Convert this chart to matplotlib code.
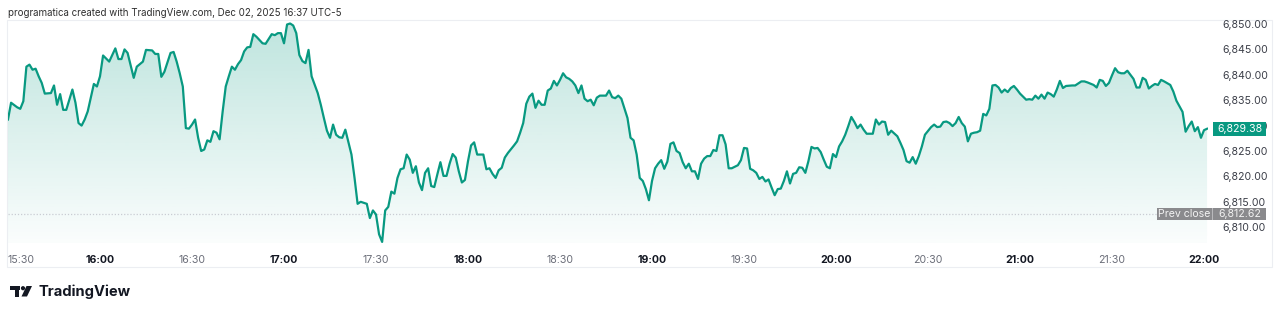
import matplotlib
matplotlib.use("Agg")
import matplotlib.pyplot as plt
import matplotlib.transforms as mtransforms
from matplotlib.patches import Rectangle, Polygon, Circle
import numpy as np

# ---------------- data ----------------
minutes = [0, 1, 3, 4, 5, 6, 7, 8, 9, 10, 11, 12, 14, 15, 16, 17, 18, 19, 21, 22, 23, 24, 25, 26, 28, 29,
           30, 31, 33, 35, 36, 37, 38, 39, 41, 42, 44, 45, 47, 48, 49, 50, 51, 53, 54, 55, 56, 57, 58, 59,
           60, 61, 62, 63, 64, 65, 66, 67, 68, 69, 70, 71, 72, 73, 74, 75, 76, 77, 78, 79, 80, 81, 83, 84,
           86, 87, 88, 89, 90, 91, 92, 93, 94, 95, 96, 97, 98, 99, 101, 102, 103, 104, 105, 106, 107, 108,
           109, 110, 112, 113, 114, 115, 117, 118, 119, 120, 121, 122, 123, 124, 125, 126, 127, 128, 129,
           130, 131, 132, 133, 134, 135, 136, 137, 138, 139, 140, 141, 142, 143, 144, 145, 146, 147, 148,
           149, 150, 151, 152, 153, 155, 156, 157, 158, 159, 160, 161, 162, 163, 165, 166, 167, 168, 169,
           170, 171, 172, 173, 174, 175, 176, 177, 178, 179, 180, 181, 182, 183, 184, 185, 186, 187, 188,
           189, 190, 191, 192, 193, 195, 196, 197, 198, 199, 200, 202, 203, 204, 205, 206, 207, 208, 209,
           210, 211, 212, 213, 214, 215, 216, 217, 218, 219, 220, 221, 222, 223, 224, 225, 226, 227, 228,
           229, 230, 231, 232, 233, 234, 235, 236, 238, 239, 240, 241, 242, 243, 244, 245, 246, 247, 248,
           249, 250, 251, 252, 253, 254, 255, 256, 257, 258, 259, 260, 261, 262, 263, 264, 265, 266, 267,
           268, 269, 270, 271, 272, 273, 274, 275, 276, 277, 278, 279, 280, 282, 283, 284, 285, 286, 287,
           288, 290, 291, 292, 293, 294, 295, 296, 297, 298, 299, 301, 302, 303, 304, 305, 306, 307, 308,
           309, 310, 311, 312, 313, 314, 315, 316, 317, 318, 319, 320, 321, 322, 323, 324, 325, 326, 327,
           328, 329, 330, 332, 333, 334, 335, 336, 337, 338, 339, 340, 341, 342, 343, 344, 345, 347, 348,
           350, 351, 352, 354, 355, 356, 357, 358, 359, 360, 361, 362, 363, 364, 365, 366, 367, 368, 369,
           370, 371, 372, 373, 374, 375, 376, 377, 379, 380, 381, 382, 383, 384, 385, 386, 387, 388, 389,
           390, 391]

prices = [6831.2, 6834.5, 6833.6, 6833.3, 6834.8, 6841.6, 6842.0, 6841.0, 6841.2, 6839.7, 6838.4, 6836.3,
          6836.4, 6837.9, 6834.1, 6836.2, 6833.1, 6833.1, 6837.1, 6834.5, 6830.5, 6830.0, 6831.2, 6832.8,
          6838.2, 6837.7, 6839.7, 6843.8, 6842.6, 6845.2, 6843.1, 6843.1, 6845.0, 6844.3, 6839.4, 6841.6,
          6842.6, 6844.9, 6844.8, 6844.1, 6844.1, 6839.6, 6840.6, 6844.3, 6844.5, 6842.6, 6840.3, 6837.7,
          6829.5, 6829.4, 6830.2, 6831.2, 6827.6, 6825.0, 6825.3, 6827.1, 6826.8, 6828.9, 6828.6, 6827.3,
          6832.8, 6837.7, 6839.7, 6841.6, 6841.0, 6842.1, 6842.9, 6844.6, 6845.4, 6845.5, 6848.0, 6847.5,
          6846.2, 6846.1, 6848.0, 6847.8, 6848.2, 6848.2, 6846.2, 6849.9, 6850.1, 6849.7, 6848.2, 6843.9,
          6842.7, 6842.3, 6844.9, 6839.7, 6836.4, 6834.1, 6831.5, 6829.0, 6827.6, 6830.2, 6828.2, 6827.7,
          6827.6, 6829.2, 6824.3, 6819.7, 6814.6, 6815.0, 6814.6, 6811.8, 6813.3, 6812.5, 6808.6, 6807.1,
          6813.3, 6814.0, 6817.0, 6816.6, 6819.7, 6821.4, 6821.6, 6824.3, 6823.3, 6820.7, 6822.0, 6818.8,
          6817.3, 6820.7, 6821.6, 6818.1, 6817.9, 6820.4, 6822.8, 6820.1, 6820.1, 6822.5, 6824.4, 6823.7,
          6821.0, 6818.8, 6819.3, 6823.0, 6826.1, 6826.7, 6824.3, 6824.3, 6821.4, 6821.6, 6820.5, 6819.7,
          6821.2, 6821.7, 6823.7, 6824.6, 6826.1, 6826.9, 6828.6, 6830.5, 6834.3, 6835.7, 6836.3, 6833.5,
          6834.9, 6834.1, 6834.1, 6836.9, 6837.3, 6838.8, 6837.9, 6839.0, 6840.3, 6839.5, 6839.2, 6838.7,
          6837.9, 6836.4, 6837.9, 6835.3, 6834.8, 6835.1, 6834.0, 6835.5, 6835.9, 6835.9, 6836.9, 6835.6,
          6835.4, 6835.9, 6835.3, 6831.5, 6827.6, 6827.1, 6824.3, 6819.7, 6819.1, 6817.5, 6815.3, 6819.1,
          6821.6, 6822.5, 6823.2, 6821.5, 6822.9, 6826.4, 6826.7, 6825.0, 6824.6, 6822.8, 6821.6, 6822.5,
          6821.0, 6821.0, 6819.5, 6822.5, 6823.5, 6824.0, 6824.0, 6825.2, 6825.0, 6828.1, 6828.1, 6826.3,
          6821.6, 6821.6, 6822.2, 6823.2, 6825.6, 6825.5, 6821.5, 6821.2, 6820.7, 6819.5, 6819.9, 6819.0,
          6819.4, 6817.8, 6816.3, 6817.5, 6817.6, 6819.1, 6821.0, 6818.6, 6820.5, 6820.7, 6821.8, 6821.7,
          6820.7, 6823.0, 6825.8, 6825.5, 6825.6, 6824.8, 6823.3, 6821.9, 6821.6, 6824.4, 6823.8, 6825.9,
          6826.9, 6828.2, 6829.9, 6831.7, 6830.7, 6829.5, 6830.2, 6829.2, 6828.4, 6828.4, 6831.2, 6830.2,
          6830.8, 6830.7, 6828.2, 6829.0, 6827.9, 6826.6, 6825.2, 6823.0, 6822.7, 6823.8, 6822.5, 6824.0,
          6825.9, 6828.2, 6829.7, 6830.2, 6829.7, 6829.8, 6830.7, 6830.8, 6830.5, 6829.9, 6830.5, 6831.7,
          6830.5, 6829.8, 6826.9, 6828.4, 6828.6, 6828.7, 6829.0, 6832.3, 6832.0, 6833.3, 6837.9, 6838.0,
          6837.5, 6836.5, 6837.1, 6836.6, 6837.4, 6837.8, 6837.1, 6836.3, 6835.1, 6835.2, 6835.1, 6835.9,
          6835.3, 6836.1, 6835.3, 6836.5, 6836.2, 6835.7, 6837.1, 6838.8, 6837.4, 6837.8, 6837.9, 6837.9,
          6838.7, 6838.7, 6838.5, 6838.0, 6837.5, 6839.0, 6838.8, 6837.8, 6838.4, 6839.9, 6841.3, 6840.5,
          6840.3, 6840.3, 6840.8, 6840.0, 6839.2, 6837.5, 6837.5, 6839.4, 6839.0, 6837.3, 6837.8, 6838.2,
          6838.0, 6839.0, 6838.7, 6838.0, 6836.7, 6834.9, 6833.8, 6832.7, 6828.8, 6829.9, 6830.8, 6828.9,
          6829.7, 6827.6, 6829.1, 6829.38]

tick_minutes = [0, 30, 60, 90, 120, 150, 180, 210, 240, 270, 300, 330, 360, 390]
tick_labels = ["15:30", "16:00", "16:30", "17:00", "17:30", "18:00", "18:30", "19:00",
               "19:30", "20:00", "20:30", "21:00", "21:30", "22:00"]
price_ticks = [6810, 6815, 6820, 6825, 6830, 6835, 6840, 6845, 6850]
last_price = 6829.38
prev_close = 6812.62
title_text = "programatica created with TradingView.com, Dec 02, 2025 16:37 UTC-5"

# ---------------- style ----------------
GREEN = "#089981"
W, H = 1280, 314
plt.rcParams["font.family"] = ["Inter", "DejaVu Sans"]

fig = plt.figure(figsize=(W / 100, H / 100), dpi=100)
fig.patch.set_facecolor("white")

def fx(px):
    return px / W

def fy(py):
    return 1 - py / H

# main pane
pane_left, pane_right, pane_top, pane_bottom = 8, 1208, 20, 243
ax = fig.add_axes([fx(pane_left), fy(pane_bottom), fx(pane_right - pane_left), (pane_bottom - pane_top) / H])
ax.set_facecolor("none")
ymax = 6850 + 4 / 5.08
ymin = 6850 - (pane_bottom - 24) / 5.08
xmax = 391.3
ax.set_xlim(0, xmax)
ax.set_ylim(ymin, ymax)
for s in ax.spines.values():
    s.set_visible(False)

x = np.array(minutes, dtype=float)
y = np.array(prices, dtype=float)

# gradient fill under line
poly = ax.fill_between(x, y, ymin, color="none", lw=0)
grad = np.linspace(0.26, 0.02, 256).reshape(-1, 1)
rgba = np.zeros((256, 1, 4))
rgba[..., 0] = 8 / 255
rgba[..., 1] = 153 / 255
rgba[..., 2] = 129 / 255
rgba[..., 3] = grad
img = ax.imshow(rgba, extent=[x.min(), x.max(), ymin, y.max()], aspect="auto",
                origin="upper", zorder=1, interpolation="bilinear")
path = poly.get_paths()[0]
img.set_clip_path(path, transform=ax.transData)

ax.plot(x, y, color=GREEN, lw=1.6, zorder=3, solid_joinstyle="round")

# prev close dotted line
ax.axhline(prev_close, color="#c9ccd3", lw=0.9, ls=(0, (1, 1.5)), zorder=2)

# x ticks
ax.set_xticks(tick_minutes)
ax.set_xticklabels(tick_labels)
ax.tick_params(axis="x", length=0, pad=8.5, labelsize=7.6)
for lbl, t in zip(ax.get_xticklabels(), tick_labels):
    if t.endswith(":00"):
        lbl.set_fontweight("bold")
        lbl.set_color("#131722")
    else:
        lbl.set_color("#6a6d78")
ax.get_xticklabels()[0].set_horizontalalignment("left")

# y ticks on right
ax.yaxis.tick_right()
ax.set_yticks(price_ticks)
ax.set_yticklabels([f"{v:,.2f}" for v in price_ticks])
ax.tick_params(axis="y", length=0, pad=10, labelsize=7.6, labelcolor="#3b3e48")

# last price box
blend = mtransforms.blended_transform_factory(fig.transFigure, ax.transData)
box_h = 14 / 5.08
ax.add_patch(Rectangle((fx(1213), last_price - box_h / 2), fx(53), box_h, transform=blend,
                       facecolor=GREEN, edgecolor="none", clip_on=False, zorder=10))
ax.text(fx(1239.5), last_price, f"{last_price:,.2f}", transform=blend, color="white",
        fontsize=7.6, ha="center", va="center", zorder=11, clip_on=False)

# prev close box
pb_h = 12 / 5.08
ax.add_patch(Rectangle((fx(1157), prev_close - pb_h / 2), fx(109), pb_h, transform=blend,
                       facecolor="#8a8a8d", edgecolor="none", clip_on=False, zorder=10))
ax.add_patch(Rectangle((fx(1212), prev_close - pb_h / 2), fx(1), pb_h, transform=blend,
                       facecolor="#b9b9bc", edgecolor="none", clip_on=False, zorder=11))
ax.text(fx(1184.5), prev_close, "Prev close", transform=blend, color="#f2f2f2",
        fontsize=7.6, ha="center", va="center", zorder=12, clip_on=False)
ax.text(fx(1239.5), prev_close, f"{prev_close:,.2f}", transform=blend, color="#f2f2f2",
        fontsize=7.6, ha="center", va="center", zorder=12, clip_on=False)

# overlay for frame, title and logo (pixel coordinates)
ov = fig.add_axes([0, 0, 1, 1], zorder=-1)
ov.set_xlim(0, W)
ov.set_ylim(H, 0)
ov.axis("off")
ov.add_patch(Rectangle((7, 20), 1265, 247, facecolor="none", edgecolor="#eceef2", lw=0.8))

ov2 = fig.add_axes([0, 0, 1, 1], zorder=5)
ov2.set_xlim(0, W)
ov2.set_ylim(H, 0)
ov2.axis("off")
ov2.patch.set_visible(False)
ov2.text(8, 12.5, title_text, fontsize=7.0, color="#2e2e2e", ha="left", va="center")

# TradingView logo
logo_c = "#131722"
ov2.add_patch(Rectangle((9.5, 286), 10.5, 4, facecolor=logo_c, edgecolor="none"))
ov2.add_patch(Rectangle((14.5, 286), 4, 10.5, facecolor=logo_c, edgecolor="none"))
ov2.add_patch(Circle((23, 288.2), 2.1, facecolor=logo_c, edgecolor="none"))
ov2.add_patch(Polygon([(26.5, 286), (32, 286), (27, 296.5), (21.5, 296.5)], closed=True,
                      facecolor=logo_c, edgecolor="none"))
ov2.text(38.5, 291.5, "TradingView", fontsize=10.6, fontweight="bold", color=logo_c,
         ha="left", va="center")

fig.savefig("out.png", dpi=100, facecolor="white")
